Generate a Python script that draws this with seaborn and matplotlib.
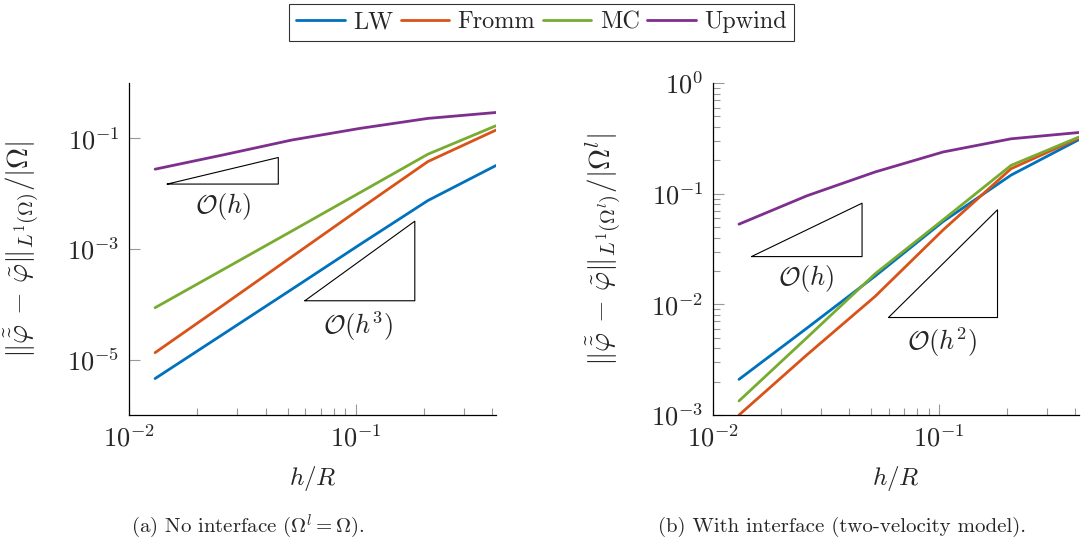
import numpy as np
import matplotlib
matplotlib.use('Agg')
import matplotlib.pyplot as plt
import matplotlib.ticker as mticker
import pandas as pd
import seaborn as sns

# mesh sizes h/R (largest to smallest)
h_vals = [0.4167, 0.2083, 0.1042, 0.0521, 0.0260, 0.0130]
schemes = ['LW', 'Fromm', 'MC', 'Upwind']

# (a) no interface
err_a = {
    'LW':     [0.0323, 7.5e-3, 1.2e-3, 1.86e-4, 2.9e-5, 4.56e-6],
    'Fromm':  [0.141, 0.038, 5.3e-3, 7.2e-4, 9.7e-5, 1.34e-5],
    'MC':     [0.169, 0.0516, 0.0104, 2.1e-3, 4.26e-4, 8.7e-5],
    'Upwind': [0.293, 0.229, 0.151, 0.093, 0.0502, 0.0277],
}
# (b) with interface
err_b = {
    'LW':     [0.308, 0.147, 0.056, 0.018, 6.1e-3, 2.1e-3],
    'Fromm':  [0.318, 0.168, 0.047, 0.0118, 3.5e-3, 1.0e-3],
    'MC':     [0.325, 0.180, 0.058, 0.0189, 5.0e-3, 1.34e-3],
    'Upwind': [0.357, 0.313, 0.238, 0.157, 0.0957, 0.053],
}

# slope triangles: (x0, x1, y0, y1, label, label_x, label_y)
tri_a = [(0.0147, 0.0455, 0.0149, 0.045, r'$\mathcal{O}(h)$', 0.026, 0.0059),
         (0.0596, 0.1824, 1.16e-4, 3.18e-3, r'$\mathcal{O}(h^3)$', 0.1025, 4.1e-5)]
tri_b = [(0.01476, 0.0456, 0.027, 0.082, r'$\mathcal{O}(h)$', 0.0258, 0.0172),
         (0.0597, 0.1815, 7.6e-3, 0.0715, r'$\mathcal{O}(h^2)$', 0.1035, 4.6e-3)]

colors = {'LW': '#0072BD', 'Fromm': '#D95319', 'MC': '#77AC30', 'Upwind': '#7E2F8E'}

sns.set_theme(style='white')
plt.rcParams['font.family'] = ['cmr10', 'DejaVu Serif']
plt.rcParams['mathtext.fontset'] = 'cm'
plt.rcParams['axes.unicode_minus'] = False


def to_long(err):
    rows = []
    for s in schemes:
        for h, e in zip(h_vals, err[s]):
            rows.append({'h': h, 'err': e, 'scheme': s})
    return pd.DataFrame(rows)


fig = plt.figure(figsize=(10.84, 5.47), dpi=100)
ax_a = fig.add_axes([0.1193, 0.2413, 0.3383, 0.607])
ax_b = fig.add_axes([0.658, 0.2413, 0.3374, 0.607])

ylabels = [r'$\|\tilde{\tilde{\varphi}}\, - \,\tilde{\varphi}\|_{L^1(\Omega)}/|\Omega|$',
           r'$\|\tilde{\tilde{\varphi}}\, - \,\tilde{\varphi}\|_{L^1(\Omega^l)}/|\Omega^l|$']

for ax, err, tris, ylab, ylim in [(ax_a, err_a, tri_a, ylabels[0], (1e-6, 1)),
                                  (ax_b, err_b, tri_b, ylabels[1], (1e-3, 1))]:
    df = to_long(err)
    sns.lineplot(data=df, x='h', y='err', hue='scheme', hue_order=schemes,
                 palette=colors, linewidth=2.0, legend=False, ax=ax, sort=False)
    ax.set_xscale('log')
    ax.set_yscale('log')
    ax.set_xlim(0.01, h_vals[0])
    ax.set_ylim(*ylim)

    for x0, x1, y0, y1, lab, lx, ly in tris:
        ax.plot([x0, x1, x1, x0], [y0, y0, y1, y0], color='black', lw=0.8)
        ax.text(lx, ly, lab, fontsize=19, ha='center', va='center')

    for side in ['top', 'right']:
        ax.spines[side].set_visible(False)
    for side in ['left', 'bottom']:
        ax.spines[side].set_color('black')
        ax.spines[side].set_linewidth(0.9)

    ax.xaxis.set_major_locator(mticker.FixedLocator([1e-2, 1e-1]))
    ax.xaxis.set_minor_locator(mticker.LogLocator(base=10, subs=np.arange(2, 10)))
    ax.xaxis.set_major_formatter(mticker.LogFormatterSciNotation())
    ax.xaxis.set_minor_formatter(mticker.NullFormatter())
    ax.yaxis.set_major_formatter(mticker.LogFormatterSciNotation())
    ax.tick_params(which='both', direction='in', color='0.6', width=0.8,
                   labelsize=19, pad=7, bottom=True, left=True)
    ax.tick_params(which='major', length=8)
    ax.tick_params(which='minor', length=5)

    ax.set_xlabel(r'$h/R$', fontsize=18)
    ax.set_ylabel(ylab, fontsize=21)
    ax.grid(False)

ax_a.yaxis.set_major_locator(mticker.FixedLocator([1e-5, 1e-3, 1e-1]))
ax_a.yaxis.set_minor_locator(mticker.NullLocator())
ax_b.yaxis.set_major_locator(mticker.FixedLocator([1e-3, 1e-2, 1e-1, 1]))
ax_b.yaxis.set_minor_locator(mticker.LogLocator(base=10, subs=np.arange(2, 10)))
ax_b.yaxis.set_minor_formatter(mticker.NullFormatter())

ax_a.xaxis.set_label_coords(0.5, -0.19)
ax_b.xaxis.set_label_coords(0.5, -0.19)
ax_a.yaxis.set_label_coords(-0.2926, 0.5)
ax_b.yaxis.set_label_coords(-0.3016, 0.5)
for ax in (ax_a, ax_b):
    ax.xaxis.label.set_va('center')
    ax.yaxis.label.set_va('center')

handles = [plt.Line2D([], [], color=colors[s], lw=2.0) for s in schemes]
leg = fig.legend(handles, schemes, loc='center', bbox_to_anchor=(0.4995, 0.959),
                 ncol=4, fontsize=17.5, frameon=True, fancybox=False,
                 handlelength=2.0, handletextpad=0.35, columnspacing=0.3,
                 borderpad=0.3)
leg.get_frame().set_edgecolor('black')
leg.get_frame().set_linewidth(0.8)

fig.text(248 / 1084, 1 - 527 / 547, r'(a) No interface ($\Omega^l = \Omega$).',
         fontsize=15, ha='center', va='center')
fig.text(842 / 1084, 1 - 527 / 547, '(b) With interface (two-velocity model).',
         fontsize=15, ha='center', va='center')

fig.savefig('out.png', dpi=100)
